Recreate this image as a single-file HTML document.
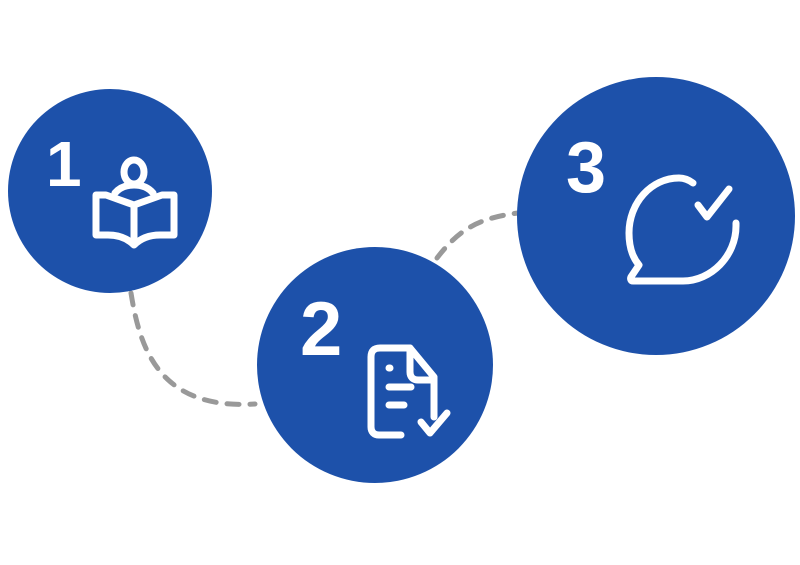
<!DOCTYPE html>
<html><head><style>body{margin:0;background:#fff;width:800px;height:560px;overflow:hidden}</style></head>
<body>
<svg width="800" height="560" viewBox="0 0 800 560" xmlns="http://www.w3.org/2000/svg">
<g fill="none" stroke="#999" stroke-width="5" stroke-linecap="round" stroke-dasharray="12 11">
<path d="M131 293 C140 350 160 410 255 404"/>
<path d="M437 258 C460 228 480 218 518 213"/>
</g>
<circle cx="110" cy="191" r="102" fill="#1d51aa"/>
<circle cx="375" cy="365" r="118" fill="#1d51aa"/>
<circle cx="656" cy="216" r="139" fill="#1d51aa"/>
<g fill="#fff" font-family="Liberation Sans, sans-serif" font-weight="bold">
<text x="46" y="186" font-size="64">1</text>
<text x="300" y="355" font-size="76">2</text>
<text x="566" y="192" font-size="72">3</text>
</g>
<g fill="none" stroke="#fff" stroke-width="7" stroke-linecap="round" stroke-linejoin="round">
<ellipse cx="134" cy="172" rx="10" ry="12"/>
<path d="M96 195 h10 l28 10 l28 -10 h12 v40 h-14 c-12 0 -20 4 -26 10 c-6 -6 -14 -10 -26 -10 h-12 z"/>
<path d="M134 205 v38"/>
<path d="M115 193 c5 -6 12 -8 19 -8 c7 0 14 2 19 8"/>
<path d="M410 348 h-30 c-6 0 -9 3 -9 9 v70 c0 5 3 8 8 8 h22"/>
<path d="M410 348 l24 29 v40"/>
<path d="M410 350 v22 c0 5 3 8 8 8 h15"/>
<path d="M389 368 h1 M389 387 h22 M389 405 h15"/>
<path d="M421 422 l9 11 l17 -20"/>
<path d="M693 183 c-4 -3 -8 -5 -14 -5 c-28 0 -50 25 -50 55 c0 14 4 25 10 32 l-8 12 c-1 2 0 4 2 4 h50 c28 0 53 -25 53 -55 v-3"/>
<path d="M698 205 l9 12 l22 -28"/>
</g>
</svg>
</body></html>
